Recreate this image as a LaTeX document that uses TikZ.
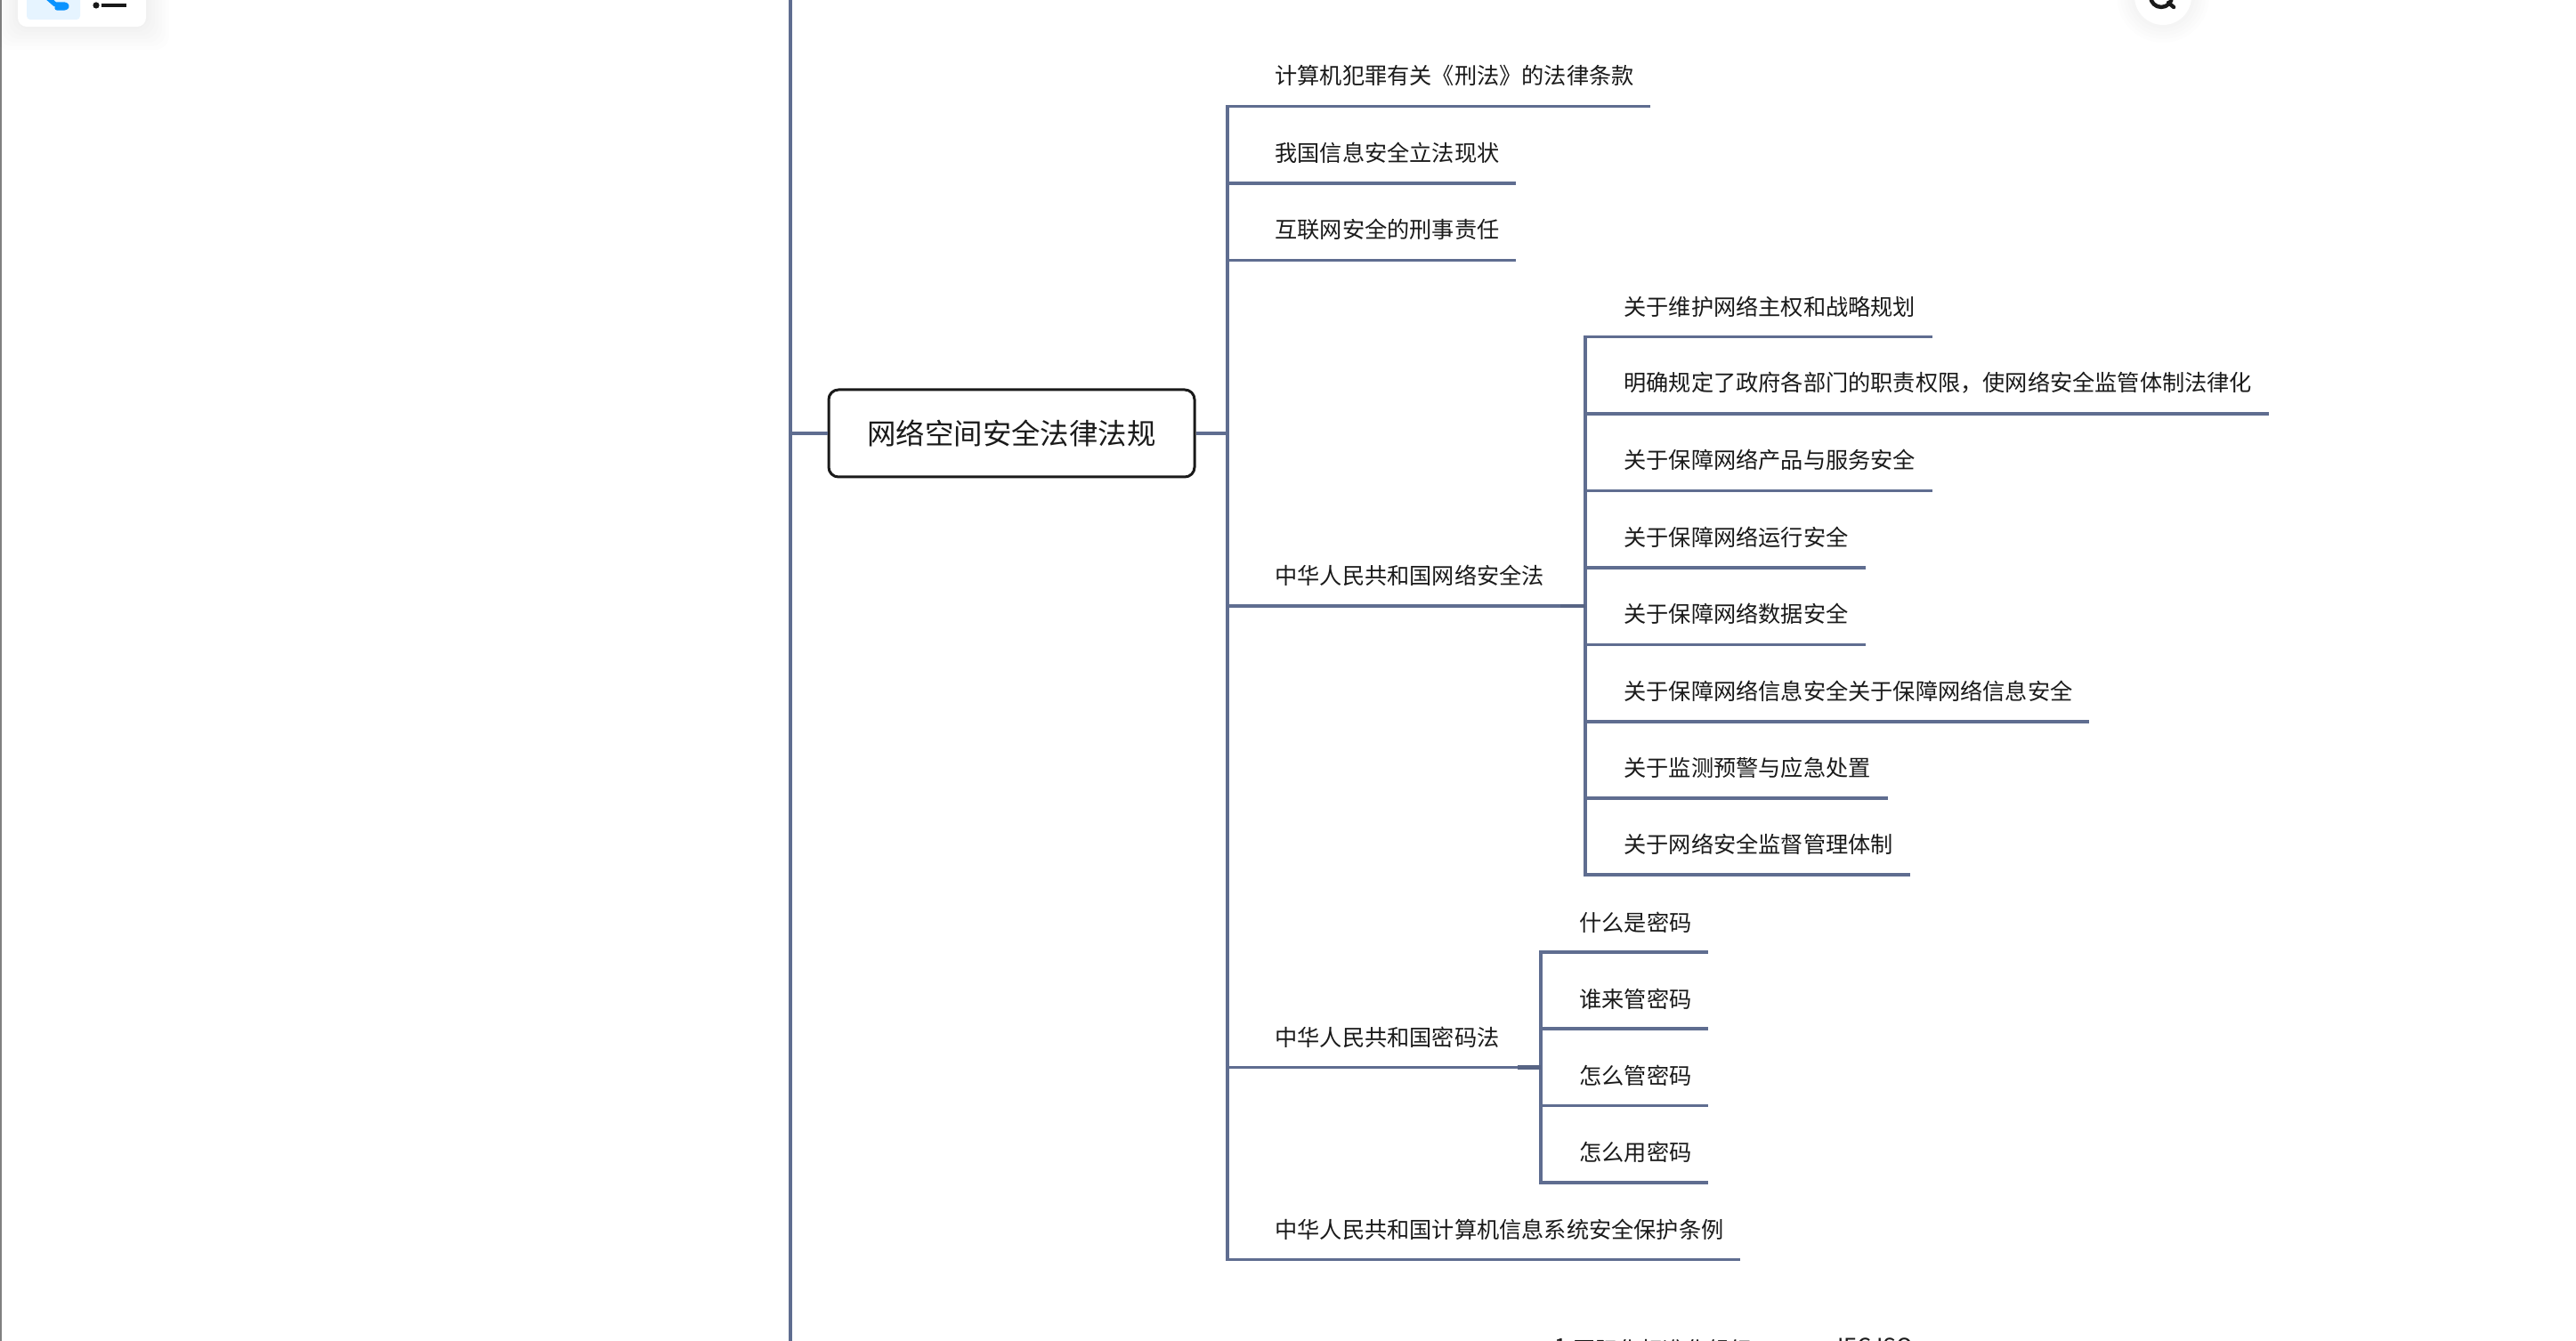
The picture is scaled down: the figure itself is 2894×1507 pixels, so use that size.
\documentclass[tikz,border=0pt]{standalone}
\usepackage{fontspec}
\setmainfont{Noto Sans CJK SC}
\begin{document}
\begin{tikzpicture}[x=0.5pt,y=-0.5pt,
  lnk/.style={draw=linkc,line width=1.75pt,line cap=rect},
  joint/.style={draw=linkc!92!black,line width=2.1pt,line cap=butt},
  topic/.style={anchor=west,inner sep=0pt,text=ink,font=\fontsize{12.6pt}{14pt}\selectfont},
  cuttopic/.style={anchor=base west,inner sep=0pt,text=ink,font=\fontsize{12.6pt}{14pt}\selectfont},
  rootbox/.style={draw=ink,line width=1.5pt,rounded corners=5.5pt,fill=white,minimum width=205.5pt,minimum height=49pt,inner sep=0pt,text=ink,font=\fontsize{16.2pt}{18pt}\selectfont},
  halo/.style={fill=black,fill opacity=0.006,draw=none}]
\definecolor{linkc}{HTML}{5F6D90}
\definecolor{ink}{HTML}{1A1A1A}
\definecolor{iconblue}{HTML}{0A93FF}
\definecolor{iconbg}{HTML}{E6F4FF}
\useasboundingbox (0,0) rectangle (2894,1507);
\clip (0,0) rectangle (2894,1507);
\fill[white] (0,0) rectangle (2894,1507);
% window edge
\fill[black!50] (0,0) rectangle (2,1507);
% toolbar card
\foreach \g in {26,22,18,14,10,6,3}{
  \fill[halo,rounded corners=8pt] (20-\g,-40) rectangle (164+\g,30+\g);
}
\fill[white,rounded corners=5pt] (20,-40) rectangle (164,30);
\fill[iconbg,rounded corners=2pt] (30,-30) rectangle (90,22);
\draw[iconblue,line width=2.6pt,line cap=round,line join=round]
  (54,-2) -- (62,5) -- (72,5) .. controls (76,5) and (76,9) .. (72,9) -- (64,9);
\fill[black!90] (108,6) circle (3.6);
\fill[black!90] (114,4) rectangle (142,8);
% search button
\foreach \g in {20,16,12,8,4}{
  \fill[halo] (2430,-4) circle (32+\g);
}
\fill[white] (2430,-4) circle (32);
\draw[ink,line width=2.2pt] (2428,-4) circle (12);
\draw[ink,line width=2.2pt,line cap=round] (2436,3) -- (2442,8);

% trunks
\coordinate (leftTop) at (888,0);
\coordinate (leftBot) at (888,1507);
\coordinate (rTop) at (1379,119.5);
\coordinate (rBot) at (1379,1415.5);
\coordinate (aTop) at (1781,378.5);
\coordinate (aBot) at (1781,983);
\coordinate (bTop) at (1731,1070);
\coordinate (bBot) at (1731,1329);
\coordinate (rootPin) at (1136.5,487);
\coordinate (aJoin) at (1781,681);
\coordinate (bJoin) at (1731,1199.5);
\coordinate (aStub) at (1753,681);
\coordinate (bStub) at (1705,1199.5);

\node[rootbox] (root) at (rootPin) {\raisebox{-0.5pt}{网络空间安全法律法规}};

% branch ends
\coordinate (e1) at (1854,119.5);
\coordinate (e2) at (1703,206);
\coordinate (e3) at (1703,292.5);
\coordinate (e6) at (1955,1415.5);
\coordinate (a1) at (2171,378.5);
\coordinate (a2) at (2549,465);
\coordinate (a3) at (2171,551.5);
\coordinate (a4) at (2096,638);
\coordinate (a5) at (2096,724.5);
\coordinate (a6) at (2347,811);
\coordinate (a7) at (2121,897);
\coordinate (a8) at (2146,983);
\coordinate (b1) at (1919,1070);
\coordinate (b2) at (1919,1156);
\coordinate (b3) at (1919,1242.5);
\coordinate (b4) at (1919,1329);

% connectors
\draw[lnk,line cap=butt] (leftTop) -- (leftBot);
\draw[lnk] (rTop) -- (rBot);
\draw[lnk] (aTop) -- (aBot);
\draw[lnk] (bTop) -- (bBot);
\draw[lnk,line cap=butt] (root.west) -- (root.west -| leftTop);
\draw[lnk,line cap=butt] (root.east) -- (root.east -| rTop);
\foreach \e in {e1,e2,e3,e6}{
  \draw[lnk,line cap=butt] (rTop |- \e) -- (\e);
}
\draw[lnk,line cap=butt] (rTop |- aJoin) -- (aJoin);
\draw[lnk,line cap=butt] (rTop |- bJoin) -- (bJoin);
\draw[joint] (aStub) -- (aJoin);
\draw[joint] (bStub) -- (bJoin);
\foreach \e in {a1,a2,a3,a4,a5,a6,a7,a8}{
  \draw[lnk,line cap=butt] (aTop |- \e) -- (\e);
}
\foreach \e in {b1,b2,b3,b4}{
  \draw[lnk,line cap=butt] (bTop |- \e) -- (\e);
}

% labels
\node[topic] (t1) at (1432,84.5) {计算机犯罪有关《刑法》的法律条款};
\node[topic] (t2) at (1432,171.5) {我国信息安全立法现状};
\node[topic] (t3) at (1432,257.5) {互联网安全的刑事责任};
\node[topic] (t4) at (1432,646.5) {中华人民共和国网络安全法};
\node[topic] (t5) at (1432,1165.5) {中华人民共和国密码法};
\node[topic] (t6) at (1432,1381.5) {中华人民共和国计算机信息系统安全保护条例};
\node[topic] (ta1) at (1824,344.5) {关于维护网络主权和战略规划};
\node[topic] (ta2) at (1824,430.5) {明确规定了政府各部门的职责权限，使网络安全监管体制法律化};
\node[topic] (ta3) at (1824,516.5) {关于保障网络产品与服务安全};
\node[topic] (ta4) at (1824,603.5) {关于保障网络运行安全};
\node[topic] (ta5) at (1824,690) {关于保障网络数据安全};
\node[topic] (ta6) at (1824,776.5) {关于保障网络信息安全关于保障网络信息安全};
\node[topic] (ta7) at (1824,862.5) {关于监测预警与应急处置};
\node[topic] (ta8) at (1824,949) {关于网络安全监督管理体制};
\node[topic] (tb1) at (1774,1036.5) {什么是密码};
\node[topic] (tb2) at (1774,1122.5) {谁来管密码};
\node[topic] (tb3) at (1774,1209) {怎么管密码};
\node[topic] (tb4) at (1774,1295) {怎么用密码};
\node[cuttopic] (tc1) at (1746,1526) {\raisebox{2pt}{1.}国际化标准化组织};
\node[cuttopic] (tc2) at (2064,1522) {IEC ISO};
\end{tikzpicture}
\end{document}
